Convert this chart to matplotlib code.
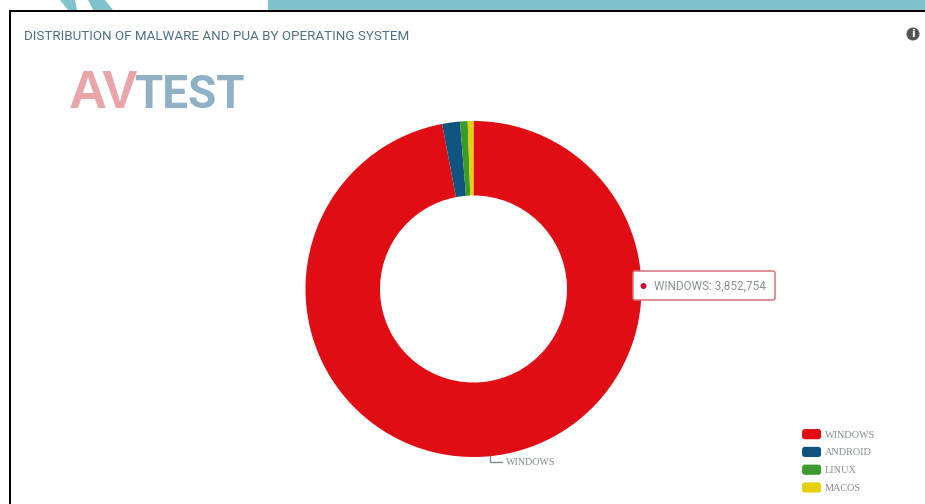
import matplotlib
matplotlib.use("Agg")
import matplotlib.pyplot as plt
from matplotlib.patches import FancyBboxPatch, Polygon, Rectangle, Circle
from matplotlib.legend_handler import HandlerPatch

W, H = 925, 504
categories = ["WINDOWS", "ANDROID", "LINUX", "MACOS"]
values = [3852754, 68000, 29000, 22000]
colors = ["#e00d14", "#10557f", "#3a9a2b", "#e3cf0a"]
title = "DISTRIBUTION OF MALWARE AND PUA BY OPERATING SYSTEM"
tooltip = "WINDOWS: 3,852,754"

fig = plt.figure(figsize=(W / 100, H / 100), dpi=100, facecolor="white")

# page overlay in pixel coordinates
bg = fig.add_axes([0, 0, 1, 1], zorder=0)
bg.set_xlim(0, W); bg.set_ylim(H, 0); bg.axis("off")
teal = "#7fc3cd"
bg.add_patch(Rectangle((268, 0), W - 268, 10, fc=teal, ec="none"))
bg.add_patch(Polygon([(60, 0), (75, 0), (77, 10), (68, 10)], fc=teal, ec="none"))
bg.add_patch(Polygon([(88, 0), (105, 0), (113, 10), (93, 10)], fc=teal, ec="none"))
bg.add_patch(Rectangle((9, 10), W - 9, 2, fc="black", ec="none"))
bg.add_patch(Rectangle((9, 10), 2, H - 10, fc="black", ec="none"))

bg.text(24, 37, title, fontsize=9.65, family="Roboto", color="#4d6f85", va="center", ha="left")

# logo
pink, steel = "#e8a5aa", "#90b0c6"
bg.text(69, 108, "AV", fontsize=38, family="Liberation Sans", weight="bold", color=pink,
        va="baseline", ha="left")
bg.text(134, 108, "TEST", fontsize=33, family="Roboto", weight="bold", color=steel,
        va="baseline", ha="left")

# donut
cx, cy, R, r = 473.5, 289, 168, 93.5
ax = fig.add_axes([(cx - R) / W, 1 - (cy + R) / H, 2 * R / W, 2 * R / H], zorder=1)
wedges, _ = ax.pie(values, colors=colors, startangle=90, counterclock=False, radius=1,
                   wedgeprops=dict(width=1 - r / R, linewidth=0))
ax.set_xlim(-1, 1); ax.set_ylim(-1, 1)

# overlay above donut
fg = fig.add_axes([0, 0, 1, 1], zorder=2)
fg.set_xlim(0, W); fg.set_ylim(H, 0); fg.axis("off"); fg.patch.set_alpha(0)

fg.add_patch(FancyBboxPatch((633, 271), 142, 29, boxstyle="round,pad=0,rounding_size=2",
                            fc="white", ec="#d9727a", lw=1.1))
fg.add_patch(Circle((643.5, 286), 3, fc="#c8102e", ec="none"))
fg.text(654, 286, tooltip, fontsize=8.5, family="Roboto", color="#8a8f94", va="center", ha="left")

fg.plot([490, 490, 502], [456, 462, 462], color="#7d8a92", lw=1)
fg.text(506, 462.5, categories[0], fontsize=7.2, family="Liberation Serif", color="#7f868c",
        va="center", ha="left")

fg.add_patch(Circle((913, 34), 6.5, fc="#555555", ec="none"))
fg.text(913, 34.3, "i", fontsize=7.5, weight="bold", color="white", va="center", ha="center")


def rounded(legend, orig_handle, xdescent, ydescent, width, height, fontsize):
    return FancyBboxPatch((-xdescent, -ydescent), width, height,
                          boxstyle="round,pad=0,rounding_size=2.0", mutation_aspect=1)


leg = fg.legend(wedges, categories, loc="upper left", bbox_to_anchor=(800 / W, 1 - 427 / H),
                bbox_transform=fig.transFigure, frameon=False, borderaxespad=0, borderpad=0.2,
                prop=dict(family="Liberation Serif", size=7.4), labelcolor="#858b90",
                handlelength=1.85, handleheight=1.15, handletextpad=0.35, labelspacing=0.7,
                handler_map={w: HandlerPatch(patch_func=rounded) for w in wedges})

fig.savefig("out.png", dpi=100, facecolor="white")
